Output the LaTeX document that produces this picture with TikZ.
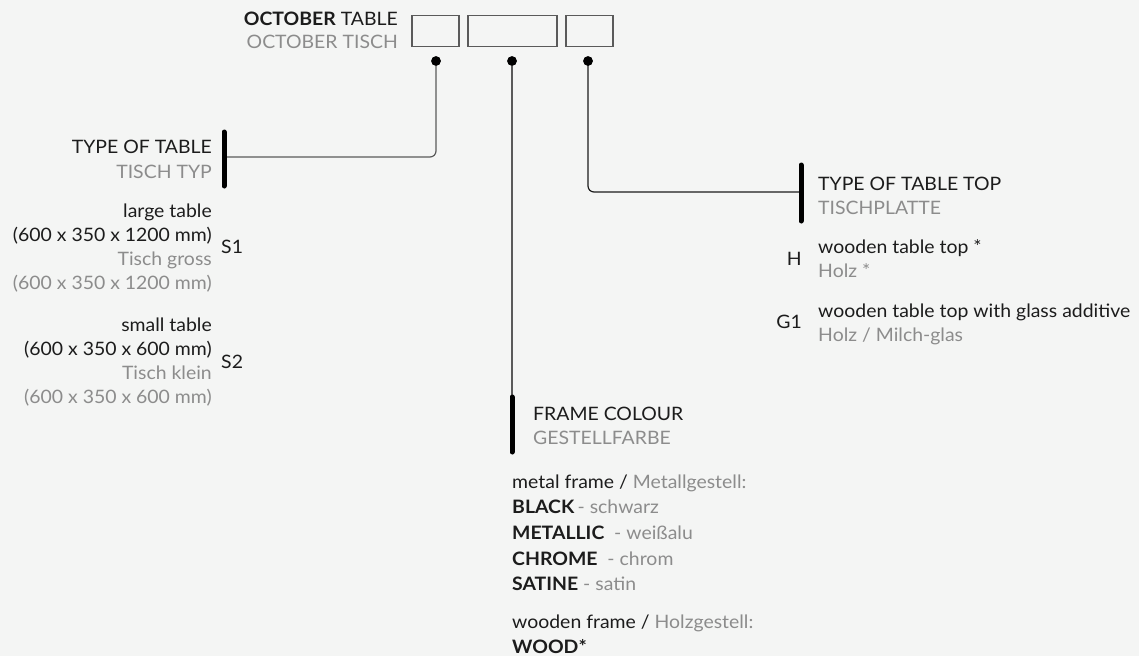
\documentclass[tikz,border=0pt]{standalone}
\usepackage{fontspec}
\setmainfont{Lato}[FakeStretch=1.05]
\definecolor{bg}{HTML}{F4F5F4}
\definecolor{ink}{HTML}{1C1C1C}
\definecolor{soft}{HTML}{8C8C8C}
\definecolor{wire}{HTML}{5A5A5A}
\begin{document}
\begin{tikzpicture}[x=1pt,y=-1pt,
  txt/.style={inner sep=0pt, font=\fontsize{18.5}{24}\selectfont, text=ink},
  gr/.style={txt, text=soft},
  R/.style={anchor=base east},
  L/.style={anchor=base west},
  codebox/.style={draw=wire, line width=1.3pt, inner sep=0pt, minimum height=31pt},
  dot/.style={circle, fill=black, inner sep=0pt, minimum size=9.5pt},
  conn/.style={draw=wire, line width=1.2pt, rounded corners=6pt},
  bar/.style={draw=black, line width=5pt, line cap=round}]
\fill[bg] (0,0) rectangle (1139,656);
\useasboundingbox (0,0) rectangle (1139,656);

% title
\node[txt,R] (t1) at (398,25.5) {\textbf{OCTOBER} TABLE};
\node[gr,R] (t2) at (398,48) {OCTOBER TISCH};
\node[codebox, minimum width=47pt] (bx1) at (435.5,31) {};
\node[codebox, minimum width=89pt] (bx2) at (512.5,31) {};
\node[codebox, minimum width=47pt] (bx3) at (589.5,31) {};

% bars
\coordinate (b1a) at (224,132); \coordinate (b1b) at (224,186); \coordinate (b1m) at (224,157);
\coordinate (b2a) at (512,397); \coordinate (b2b) at (512,452);
\coordinate (b3a) at (801,165); \coordinate (b3b) at (801,221); \coordinate (b3m) at (801,192);

% dots
\node[dot] (d1) at (436,61) {};
\node[dot] (d2) at (512,61) {};
\node[dot] (d3) at (588,61) {};

% connectors
\draw[conn] (d1.center) |- (b1m);
\draw[conn] (d2.center) -- (b2a);
\draw[conn, draw=ink] (d3.center) |- (b3m);
\node[dot] at (d1) {};
\node[dot] at (d2) {};
\node[dot] at (d3) {};
\draw[bar] (b1a) -- (b1b);
\draw[bar] (b2a) -- (b2b);
\draw[bar] (b3a) -- (b3b);

% type of table
\node[txt,R] (h1) at (212,153) {TYPE OF TABLE};
\node[gr,R] (h1g) at (212,178) {TISCH TYP};
\node[txt,R] (s1a) at (212,217) {large table};
\node[txt,R] (s1b) at (212,241) {(600 x 350 x 1200 mm)};
\node[gr,R] (s1c) at (212,265) {Tisch gross};
\node[gr,R] (s1d) at (212,289) {(600 x 350 x 1200 mm)};
\node[txt,L] (S1) at (221,253) {S1};
\node[txt,R] (s2a) at (212,331) {small table};
\node[txt,R] (s2b) at (212,355) {(600 x 350 x 600 mm)};
\node[gr,R] (s2c) at (212,379) {Tisch klein};
\node[gr,R] (s2d) at (212,403) {(600 x 350 x 600 mm)};
\node[txt,L] (S2) at (221,368) {S2};

% type of table top
\node[txt,L] (h3) at (818,190) {TYPE OF TABLE TOP};
\node[gr,L] (h3g) at (818,214) {TISCHPLATTE};
\node[txt,R] (H) at (802,265) {H};
\node[txt,L] (ha) at (818,253) {wooden table top *};
\node[gr,L] (hb) at (818,277) {Holz *};
\node[txt,R] (G1) at (802,328) {G1};
\node[txt,L] (ga) at (818,317) {wooden table top with glass additive};
\node[gr,L] (gb) at (818,341) {Holz / Milch-glas};

% frame colour
\node[txt,L] (h2) at (533,420) {FRAME COLOUR};
\node[gr,L] (h2g) at (533,444) {GESTELLFARBE};
\node[txt,L] (f1) at (512,488) {metal frame / {\color{soft}Metallgestell:}};
\node[txt,L] (f2) at (512,513) {\textbf{BLACK}\,{\color{soft}- schwarz}};
\node[txt,L] (f3) at (512,539) {\textbf{METALLIC}\ \ {\color{soft}- weißalu}};
\node[txt,L] (f4) at (512,565) {\textbf{CHROME}\ \ {\color{soft}- chrom}};
\node[txt,L] (f5) at (512,590) {\textbf{SATINE}\ {\color{soft}- satin}};
\node[txt,L] (f6) at (512,628) {wooden frame / {\color{soft}Holzgestell:}};
\node[txt,L] (f7) at (512,653) {\textbf{WOOD*}};
\end{tikzpicture}
\end{document}
